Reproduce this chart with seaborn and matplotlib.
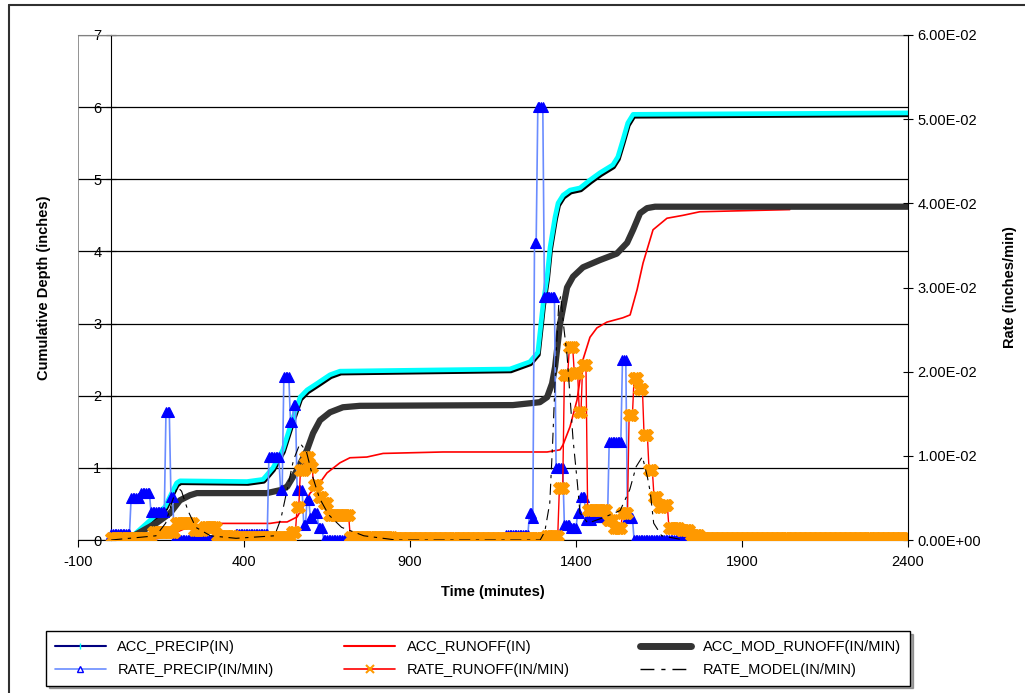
import matplotlib
matplotlib.use('Agg')
import matplotlib.pyplot as plt
import matplotlib.patheffects as pe
from matplotlib.lines import Line2D
from matplotlib.ticker import FormatStrFormatter, MultipleLocator
import pandas as pd
import seaborn as sns

# Cumulative depths (inches)
acc_precip_t = [0, 63, 162, 197, 207, 409, 457, 463, 487, 517, 548, 569, 590, 620, 659,
                689, 1201, 1261, 1285, 1301, 1313, 1322, 1337, 1346, 1361, 1382, 1412, 1442,
                1472, 1511, 1526, 1541, 1556, 1572, 2400]
acc_precip_in = [0, 0.05, 0.46, 0.79, 0.82, 0.81, 0.84, 0.87, 1.0, 1.25, 1.7, 1.98, 2.08, 2.17, 2.29,
                 2.34, 2.37, 2.47, 2.6, 3.28, 3.65, 4.06, 4.48, 4.67, 4.78, 4.85, 4.88, 4.99,
                 5.09, 5.2, 5.31, 5.54, 5.78, 5.9, 5.92]

acc_runoff_t = [0, 138, 168, 228, 267, 298, 478, 508, 530, 560, 578, 599, 620, 650, 689, 719, 770,
                819, 999, 1313, 1352, 1361, 1382, 1403, 1421, 1442, 1463, 1493, 1541, 1563, 1584,
                1602, 1632, 1674, 1722, 1773, 2044]
acc_runoff_in = [0, 0.02, 0.05, 0.17, 0.21, 0.23, 0.23, 0.25, 0.25, 0.32, 0.46, 0.65, 0.74, 0.93, 1.07,
                 1.14, 1.15, 1.2, 1.22, 1.22, 1.25, 1.32, 1.57, 1.94, 2.5, 2.81, 2.94, 3.02, 3.08,
                 3.12, 3.47, 3.84, 4.3, 4.46, 4.5, 4.55, 4.58]

acc_mod_t = [0, 72, 138, 177, 207, 237, 258, 409, 469, 508, 530, 560, 590, 608, 629, 659, 698, 749,
             1210, 1291, 1313, 1328, 1337, 1352, 1373, 1391, 1421, 1472, 1523, 1554, 1572, 1593,
             1614, 1638, 2400]
acc_mod_in = [0, 0.07, 0.24, 0.37, 0.55, 0.62, 0.65, 0.65, 0.65, 0.69, 0.74, 0.97, 1.25, 1.48, 1.66,
              1.77, 1.84, 1.86, 1.87, 1.91, 1.98, 2.17, 2.4, 3.0, 3.5, 3.65, 3.78, 3.88, 3.97,
              4.12, 4.3, 4.53, 4.6, 4.62, 4.62]

# Rates (in/min), 5-minute samples held constant over runs: start, end, value
step = 5
precip_start = [0, 60, 90, 120, 165, 180, 190, 375, 475, 510, 520, 540, 550, 560, 580, 590, 600,
                610, 625, 640, 1190, 1260, 1270, 1275, 1285, 1305, 1340, 1365, 1385, 1405, 1415,
                1430, 1450, 1500, 1540, 1555, 1575]
precip_end = [60, 90, 120, 165, 180, 190, 375, 475, 510, 520, 540, 550, 560, 580, 590, 600, 610,
              625, 640, 1190, 1260, 1270, 1275, 1285, 1305, 1340, 1365, 1385, 1405, 1415, 1430,
              1450, 1500, 1540, 1555, 1575, 1830]
precip_val = [0.0007, 0.0050, 0.0056, 0.0033, 0.0152, 0.0051, 0.0, 0.0007, 0.0099, 0.0060, 0.0194,
              0.0140, 0.0160, 0.0060, 0.0018, 0.0048, 0.0026, 0.0032, 0.0014, 0.0, 0.0006, 0.0032,
              0.0026, 0.0353, 0.0514, 0.0289, 0.0086, 0.0018, 0.0014, 0.0032, 0.0051, 0.0024,
              0.0027, 0.0116, 0.0214, 0.0026, 0.0]

runoff_start = [0, 125, 195, 250, 280, 320, 375, 490, 545, 560, 570, 585, 600, 610, 625, 640, 655,
                720, 850, 1310, 1350, 1365, 1380, 1395, 1410, 1420, 1435, 1495, 1515, 1540, 1560,
                1575, 1590, 1605, 1620, 1635, 1650, 1665, 1680, 1715, 1745, 1775]
runoff_end = [125, 195, 250, 280, 320, 375, 490, 545, 560, 570, 585, 600, 610, 625, 640, 655, 720,
              850, 1310, 1350, 1365, 1380, 1395, 1410, 1420, 1435, 1495, 1515, 1540, 1560, 1575,
              1590, 1605, 1620, 1635, 1650, 1665, 1680, 1715, 1745, 1775, 2405]
runoff_val = [0.0002, 0.0010, 0.0020, 0.0012, 0.0016, 0.0005, 0.0003, 0.0004, 0.0010, 0.0039,
              0.0083, 0.0099, 0.0087, 0.0065, 0.0051, 0.0044, 0.0030, 0.0004, 0.0002, 0.0005,
              0.0062, 0.0196, 0.0229, 0.0198, 0.0152, 0.0208, 0.0036, 0.0024, 0.0014, 0.0032,
              0.0149, 0.0193, 0.0180, 0.0125, 0.0083, 0.0051, 0.0039, 0.0042, 0.0014, 0.0012,
              0.0006, 0.0002]

model_t = [0, 135, 164, 183, 199, 212, 231, 255, 299, 376, 492, 511, 530, 549, 569, 588, 607, 627,
           655, 694, 761, 858, 1292, 1306, 1321, 1330, 1340, 1348, 1354, 1364, 1373, 1382, 1391,
           1404, 1412, 1436, 1485, 1533, 1562, 1581, 1600, 1615, 1624, 1634, 1658, 1725]
model_rate = [0, 0.0005, 0.002, 0.0045, 0.0063, 0.0058, 0.0035, 0.0015, 0.0005, 0.0002, 0.0005,
              0.0025, 0.006, 0.0095, 0.0115, 0.0105, 0.0075, 0.005, 0.003, 0.0015, 0.0005, 0, 0,
              0.001, 0.0044, 0.0119, 0.022, 0.028, 0.029, 0.025, 0.022, 0.017, 0.012, 0.0068,
              0.0032, 0.002, 0.0027, 0.0035, 0.006, 0.0087, 0.0099, 0.0075, 0.0056, 0.002,
              0.0005, 0]


def runs_to_frame(starts, ends, vals):
    t, v = [], []
    for s, e, r in zip(starts, ends, vals):
        for m in range(s, e, step):
            t.append(m)
            v.append(r)
    return pd.DataFrame({'t': t, 'v': v})


sns.set_style('white', rc={'axes.edgecolor': 'black', 'text.color': 'black',
                           'axes.labelcolor': 'black', 'xtick.color': 'black',
                           'ytick.color': 'black'})
plt.rcParams['font.family'] = ['Liberation Sans', 'DejaVu Sans']
plt.rcParams['axes.unicode_minus'] = False

fig = plt.figure(figsize=(10.25, 6.93), dpi=100)
ax = fig.add_axes([78 / 1025, 153 / 693, 830 / 1025, 505 / 693])

# Cumulative series (left axis)
df_p = pd.DataFrame({'t': acc_precip_t, 'v': acc_precip_in})
df_r = pd.DataFrame({'t': acc_runoff_t, 'v': acc_runoff_in})
df_m = pd.DataFrame({'t': acc_mod_t, 'v': acc_mod_in})

sns.lineplot(data=df_p, x='t', y='v', ax=ax, color='#000080', lw=1, estimator=None, sort=False,
             legend=False,
             path_effects=[pe.Stroke(offset=(0.8, -1.8), linewidth=2.5, foreground='black'),
                           pe.Stroke(linewidth=3.4, foreground='#00FFFF')])
sns.lineplot(data=df_r, x='t', y='v', ax=ax, color='#FF0000', lw=1.2, estimator=None,
             sort=False, legend=False)
sns.lineplot(data=df_m, x='t', y='v', ax=ax, color='#333333', lw=4.5, estimator=None,
             sort=False, legend=False)

ax.set_xlim(-100, 2400)
ax.set_ylim(0, 7)
ax.set_xticks(range(-100, 2401, 500))
ax.yaxis.set_major_locator(MultipleLocator(1))
ax.grid(axis='y', color='black', lw=0.9)
ax.grid(axis='x', visible=False)
ax.spines['left'].set_position(('data', 0))
ax.spines['top'].set_color('#808080')
ax.spines['right'].set_visible(False)
ax.axvline(-100, color='#808080', lw=1.2)
ax.tick_params(axis='y', direction='inout', length=7, left=True, labelsize=10.5)
ax.tick_params(axis='x', direction='out', length=5, bottom=True, labelsize=10.5, pad=6)
ax.set_xlabel('Time (minutes)', fontsize=10.5, fontweight='bold')
ax.set_ylabel('Cumulative Depth (inches)', fontsize=10.5, fontweight='bold')
ax.xaxis.set_label_coords(0.5, -0.09)
ax.yaxis.set_label_coords(-0.033, 0.5)

# Rate series (right axis)
ax2 = ax.twinx()
df_pr = runs_to_frame(precip_start, precip_end, precip_val)
df_rr = runs_to_frame(runoff_start, runoff_end, runoff_val)
df_mr = pd.DataFrame({'t': model_t, 'v': model_rate})

sns.lineplot(data=df_pr, x='t', y='v', ax=ax2, color='#6A8CFF', lw=1.2, marker='^',
             markersize=7.5, markerfacecolor='#0000FF', markeredgecolor='#0000FF',
             estimator=None, sort=False, legend=False)
sns.lineplot(data=df_rr, x='t', y='v', ax=ax2, color='#FF0000', lw=1, marker='X',
             markersize=8.5, markerfacecolor='#FF9900', markeredgecolor='#FF9900',
             estimator=None, sort=False, legend=False)
sns.lineplot(data=df_mr, x='t', y='v', ax=ax2, color='black', lw=0.8,
             linestyle=(0, (10, 5, 3, 5)), estimator=None, sort=False, legend=False)

ax2.set_ylim(0, 0.06)
ax2.yaxis.set_major_locator(MultipleLocator(0.01))
ax2.yaxis.set_major_formatter(FormatStrFormatter('%.2E'))
for s in ['left', 'top', 'bottom']:
    ax2.spines[s].set_visible(False)
ax2.tick_params(axis='y', direction='inout', length=7, right=True, labelsize=10.5)
ax2.set_ylabel('Rate (inches/min)', fontsize=10.5, fontweight='bold')
ax2.yaxis.set_label_coords(1.114, 0.5)
ax2.grid(False)

# Outer chart border (top and left visible)
fig.add_artist(Line2D([9 / 1025, 9 / 1025], [0, 1 - 5 / 693], transform=fig.transFigure,
                      color='#303030', lw=1.5))
fig.add_artist(Line2D([9 / 1025, 1], [1 - 5 / 693, 1 - 5 / 693], transform=fig.transFigure,
                      color='#303030', lw=1.5))

handles = [
    Line2D([], [], color='#000080', lw=1.5, marker='|', markersize=4,
           markeredgecolor='#00FFFF'),
    Line2D([], [], color='#6A8CFF', lw=1.2, marker='^', markersize=5,
           markerfacecolor='white', markeredgecolor='#0000FF'),
    Line2D([], [], color='#FF0000', lw=1.5),
    Line2D([], [], color='#FF0000', lw=1.2, marker='x', markersize=6,
           markeredgecolor='#FF9900', markeredgewidth=1.5),
    Line2D([], [], color='#333333', lw=5),
    Line2D([], [], color='black', lw=1, linestyle=(0, (10, 5, 3, 5))),
]
labels = ['ACC_PRECIP(IN)', 'RATE_PRECIP(IN/MIN)', 'ACC_RUNOFF(IN)', 'RATE_RUNOFF(IN/MIN)',
          'ACC_MOD_RUNOFF(IN/MIN)', 'RATE_MODEL(IN/MIN)']
leg = fig.legend(handles, labels, loc='center', ncol=3, mode='expand',
                 bbox_to_anchor=(46 / 1025, 5 / 693, 864 / 1025, 59 / 693),
                 frameon=True, fancybox=False, shadow=True, edgecolor='black',
                 fontsize=10.5, handlelength=3.5, borderaxespad=0, borderpad=0.6,
                 labelspacing=0.6)
leg.get_frame().set_linewidth(1)

fig.savefig('out.png', dpi=100)
